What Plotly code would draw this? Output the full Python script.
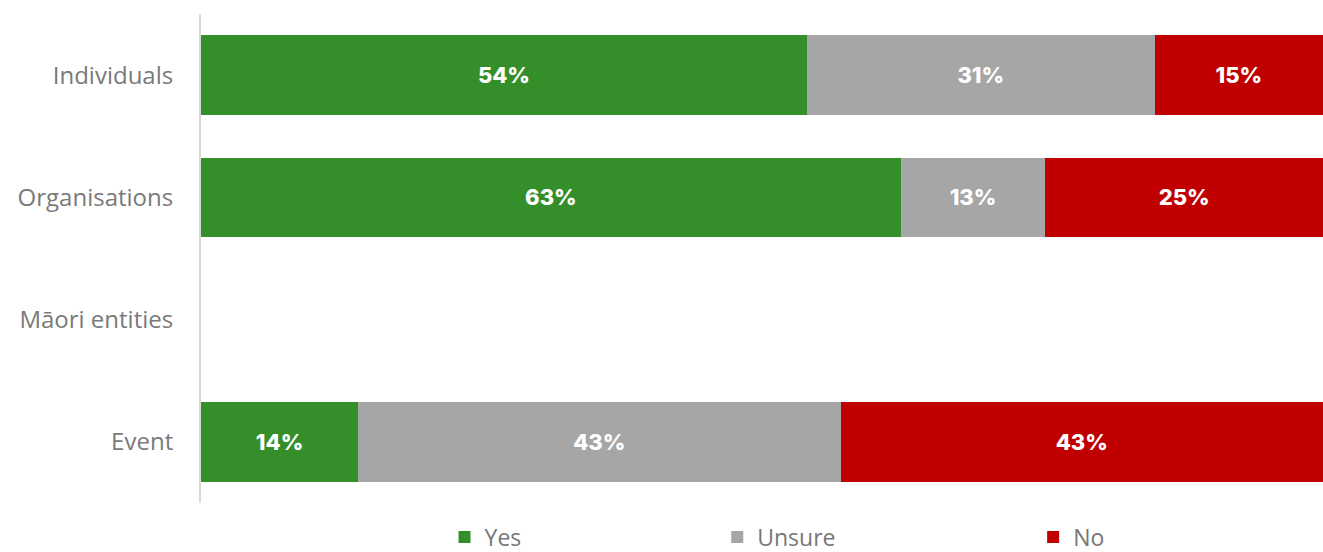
import plotly.graph_objects as go

categories = ["Individuals", "Organisations", "Māori entities", "Event"]
yes_pct = [54, 63, None, 14]
unsure_pct = [31, 13, None, 43]
no_pct = [15, 25, None, 43]

series_names = ["Yes", "Unsure", "No"]
series_colors = ["#348f2a", "#a6a6a6", "#c00000"]
series_values = [yes_pct, unsure_pct, no_pct]
legend_ids = ["legend", "legend2", "legend3"]
legend_x = [0.367, 0.589, 0.810]

fig = go.Figure()
for name, color, vals, lid in zip(series_names, series_colors, series_values, legend_ids):
    fig.add_trace(go.Bar(
        y=categories,
        x=vals,
        name=name,
        orientation="h",
        marker=dict(color=color, line=dict(width=0)),
        text=[f"{v}%" if v is not None else "" for v in vals],
        texttemplate="%{text}",
        textposition="inside",
        insidetextanchor="middle",
        textangle=0,
        textfont=dict(family="Inter", size=22, color="white", weight=800),
        legend=lid,
        showlegend=True,
        hoverinfo="skip",
    ))

legend_common = dict(
    orientation="h",
    yref="container",
    yanchor="middle",
    y=0.027,
    xref="container",
    xanchor="center",
    itemwidth=30,
    font=dict(family="Open Sans", size=23, color="#777777", weight=400),
    bgcolor="rgba(0,0,0,0)",
    itemclick=False,
    itemdoubleclick=False,
)

fig.update_layout(
    showlegend=True,
    barmode="stack",
    barnorm="percent",
    bargap=0.35,
    width=1323,
    height=552,
    margin=dict(l=201, r=0, t=14, b=49, autoexpand=False),
    plot_bgcolor="white",
    paper_bgcolor="white",
    xaxis=dict(range=[0, 100], visible=False, showgrid=False, zeroline=False),
    yaxis=dict(
        categoryorder="array",
        categoryarray=categories,
        autorange="reversed",
        showgrid=False,
        zeroline=False,
        showline=True,
        linecolor="#d9d9d9",
        linewidth=2,
        ticks="",
        ticklabelstandoff=21,
        tickfont=dict(family="Open Sans", size=24, color="#7a7a7a", weight=400),
    ),
    legend=dict(legend_common, x=legend_x[0]),
    legend2=dict(legend_common, x=legend_x[1]),
    legend3=dict(legend_common, x=legend_x[2]),
)

fig.write_html(
    "out.html",
    config={"displayModeBar": False},
    post_script="document.body.style.margin='0';document.body.style.overflow='hidden';",
)
